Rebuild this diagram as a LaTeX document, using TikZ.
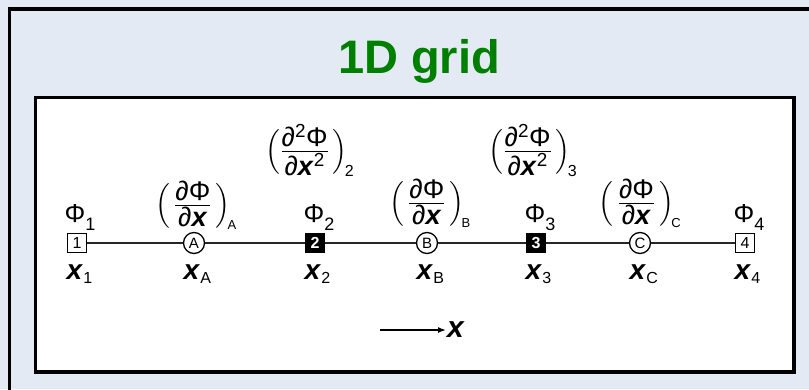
\documentclass[tikz,border=0pt]{standalone}
\usepackage{amsmath}
\usepackage{fontspec}
\setmainfont{Liberation Sans}
\usetikzlibrary{positioning, arrows.meta}

\definecolor{panelbg}{RGB}{227,234,243}
\definecolor{titlegreen}{RGB}{0,128,0}

\newcommand{\bx}{\textbf{\textit{x}}}
\newcommand{\phisub}[1]{Φ\rlap{\raisebox{-8pt}{\fontsize{18}{18}\selectfont #1}}}
\newcommand{\xsub}[1]{\bx\rlap{\raisebox{-4pt}{\fontsize{16}{16}\selectfont #1}}}
\newcommand{\dfirst}[1]{$\delimiterfactor=750\delimitershortfall=16pt\left(\,\frac{\mbox{\raisebox{2pt}{∂Φ}}}{\mbox{\raisebox{-1pt}{∂\bx}}}\,\right)_{\!\mbox{\fontsize{13}{13}\selectfont #1}}$}
\newcommand{\dsecond}[1]{$\delimiterfactor=750\delimitershortfall=22pt\left(\frac{\mbox{\raisebox{2pt}{∂\textsuperscript{2}Φ}}}{\mbox{\raisebox{-1pt}{∂\bx\textsuperscript{2}}}}\,\right)_{\!\mbox{\fontsize{16}{16}\selectfont #1}}$}

\begin{document}
\begin{tikzpicture}[x=1pt, y=-1pt,
    frame/.style={line width=3.5pt},
    gridline/.style={line width=1.8pt, black!85},
    openbox/.style={draw, line width=1.4pt, fill=white, minimum size=19pt,
      inner sep=0pt, font=\fontsize{16}{16}\selectfont},
    fullbox/.style={draw, line width=1.4pt, fill=black, text=white,
      minimum size=19pt, inner sep=0pt, font=\fontsize{16}{16}\selectfont\bfseries},
    midpt/.style={draw, circle, line width=1.3pt, fill=white, minimum size=21pt,
      inner sep=0pt, font=\fontsize{15}{15}\selectfont},
    philbl/.style={anchor=base, inner sep=0pt, font=\fontsize{26}{26}\selectfont},
    poslbl/.style={anchor=base, inner sep=0pt, font=\fontsize{28}{28}\selectfont},
    derivlbl/.style={anchor=base, inner sep=0pt, font=\fontsize{27}{27}\selectfont}]
    \clip (0,0) rectangle (809,389);
    \fill[panelbg] (0,0) rectangle (809,389);
    \draw[frame] (9.5,420) -- (9.5,9) -- (840,9);
    \draw[frame, fill=white] (35.5,97.5) rectangle (794,372);
    \node[anchor=base, text=titlegreen, font=\fontsize{47}{47}\selectfont\bfseries]
      (title) at (419,73) {1D grid};

    \node[openbox] (n1) at (77,243) {1};
    \node[midpt] (mA) at (194,243) {A};
    \node[fullbox] (n2) at (315,243) {2};
    \node[midpt] (mB) at (427,243) {B};
    \node[fullbox] (n3) at (536,243) {3};
    \node[midpt] (mC) at (640,243) {C};
    \node[openbox] (n4) at (745,243) {4};
    \draw[gridline] (n1) -- (mA) -- (n2) -- (mB) -- (n3) -- (mC) -- (n4);

    \node[philbl] (phi1) at (75,222) {\phisub{1}};
    \node[philbl] (phi2) at (314,222) {\phisub{2}};
    \node[philbl] (phi3) at (535,222) {\phisub{3}};
    \node[philbl] (phi4) at (744,222) {\phisub{4}};

    \node[poslbl] (x1) at (75,279) {\xsub{1}};
    \node[poslbl] (xA) at (192,279) {\xsub{A}};
    \node[poslbl] (x2) at (313,279) {\xsub{2}};
    \node[poslbl] (xB) at (425,279) {\xsub{B}};
    \node[poslbl] (x3) at (534,279) {\xsub{3}};
    \node[poslbl] (xC) at (638,279) {\xsub{C}};
    \node[poslbl] (x4) at (743,279) {\xsub{4}};

    \node[derivlbl] (dA) at (196,212) {\dfirst{A}};
    \node[derivlbl] (dB) at (430,210) {\dfirst{B}};
    \node[derivlbl] (dC) at (640,210) {\dfirst{C}};
    \node[derivlbl] (d2) at (310,158) {\dsecond{2}};
    \node[derivlbl] (d3) at (533,158) {\dsecond{3}};

    \coordinate (xtail) at (380,330);
    \node[anchor=west, inner sep=1pt, font=\fontsize{30}{30}\selectfont] (xdir) at (446,330) {\bx};
    \draw[line width=1.5pt, -{Latex[length=8pt, width=6pt]}] (xtail) -- (xdir);
\end{tikzpicture}
\end{document}
